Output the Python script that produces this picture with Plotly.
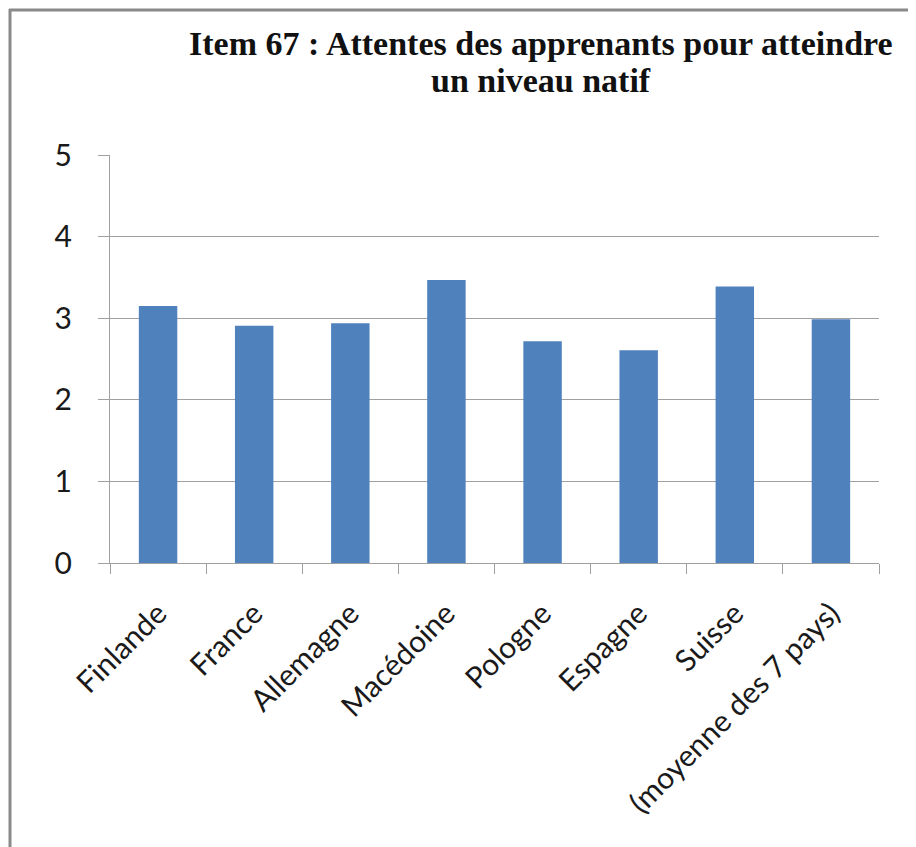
import plotly.graph_objects as go

categories = ["Finlande", "France", "Allemagne", "Macédoine", "Pologne",
              "Espagne", "Suisse", "(moyenne des 7 pays)"]
values = [3.15, 2.91, 2.94, 3.47, 2.72, 2.61, 3.39, 2.99]
y_ticks = [0, 1, 2, 3, 4, 5]
title_lines = ["Item 67 : Attentes des apprenants pour atteindre", "un niveau natif"]

# page body has an 8px margin, so the figure is drawn 8px lower/right
OFF = 8
W, H = 916 - OFF, 847 - OFF
ML, MR, MT, MB = 110 - OFF, 37, 155 - OFF, 284

fig = go.Figure(go.Bar(x=categories, y=values, marker=dict(color="#4F81BD", line=dict(width=0))))

pw = W - ML - MR
ph = H - MT - MB

def px_to_paper_x(px):
    return (px - OFF - ML) / pw

def px_to_paper_y(py):
    return (H - MB - (py - OFF)) / ph

title_font = dict(family="Liberation Serif, Times New Roman, serif", size=34,
                  color="#111111", weight="bold")
annotations = []
for line, yc in zip(title_lines, [43, 81]):
    annotations.append(dict(text=line, xref="paper", yref="paper",
                            x=px_to_paper_x(541), y=px_to_paper_y(yc),
                            xanchor="center", yanchor="middle",
                            showarrow=False, font=title_font))

fig.update_layout(
    width=W, height=H,
    margin=dict(l=ML, r=MR, t=MT, b=MB),
    paper_bgcolor="white", plot_bgcolor="white",
    bargap=0.6,
    showlegend=False,
    font=dict(family="Lato, Carlito, sans-serif", color="#1a1a1a"),
    annotations=annotations,
    shapes=[
        dict(type="line", xref="paper", yref="paper",
             x0=px_to_paper_x(9), x1=px_to_paper_x(930),
             y0=px_to_paper_y(10), y1=px_to_paper_y(10),
             line=dict(color="#8a8a8a", width=3)),
        dict(type="line", xref="paper", yref="paper",
             x0=px_to_paper_x(10), x1=px_to_paper_x(10),
             y0=px_to_paper_y(9), y1=px_to_paper_y(860),
             line=dict(color="#8a8a8a", width=3)),
    ],
)

fig.update_xaxes(
    type="category",
    showline=True, linecolor="#a0a0a0", linewidth=1,
    ticks="outside", ticklen=10, tickcolor="#a0a0a0", tickson="boundaries",
    tickangle=-45, ticklabelstandoff=20,
    tickfont=dict(size=30, family="Lato, Carlito, sans-serif", color="#1a1a1a"),
    showgrid=False,
)
fig.update_yaxes(
    range=[0, 5.003], tickvals=y_ticks,
    showline=True, linecolor="#a0a0a0", linewidth=1,
    ticks="outside", ticklen=11, tickcolor="#a0a0a0",
    showgrid=True, gridcolor="#a0a0a0", gridwidth=1,
    zeroline=False,
    ticklabelstandoff=20,
    tickfont=dict(size=30, family="Lato, Carlito, sans-serif", color="#1a1a1a"),
)

fig.write_html("out.html")
